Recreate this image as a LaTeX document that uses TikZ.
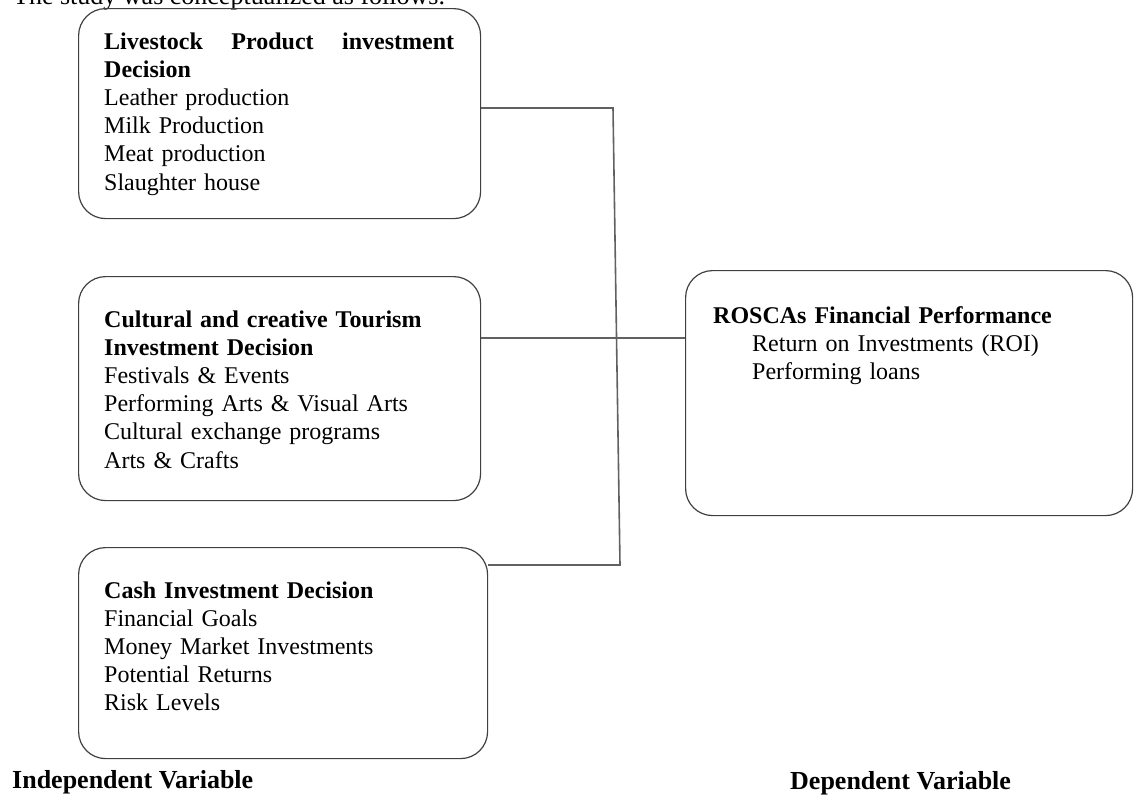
\documentclass[tikz,border=0pt]{standalone}
\usepackage{fontspec}
\setmainfont{Liberation Serif}
\begin{document}
\begin{tikzpicture}[x=1pt,y=-1pt,
  box/.style={draw=black!75,line width=1.2pt,rounded corners=27pt,inner sep=0pt,anchor=north west},
  conn/.style={draw=black!62,line width=1.6pt},
  boxtext/.style={inner sep=0pt,anchor=base west,text width=#1,font=\fontsize{24}{28.2}\selectfont},
  boxtext/.default=360pt,
  label/.style={inner sep=0pt,anchor=base west,font=\fontsize{26}{30}\selectfont\bfseries},
  caption/.style={inner sep=0pt,anchor=base west,font=\fontsize{26}{30}\selectfont}]
\useasboundingbox (0,0) rectangle (1135,795);
% caption (cut off at the top, as in the reference)
\begin{scope}
\clip (0,0) rectangle (1135,795);
\node[caption] (cap) at (13,5) {The study was conceptualized as follows.};
\end{scope}
% boxes
\node[box,minimum width=402pt,minimum height=210pt] (b1) at (78,8) {};
\node[box,minimum width=402pt,minimum height=224pt] (b2) at (78,276) {};
\node[box,minimum width=409pt,minimum height=211pt] (b3) at (78,547) {};
\node[box,minimum width=447pt,minimum height=245pt] (r) at (685,270) {};
% box texts
\node[boxtext,align=left] (t1) at (104,49) {\textbf{\makebox[350pt][l]{Livestock\hfill Product\hfill investment}}\\
\textbf{Decision}\\ Leather production\\ Milk Production\\ Meat production\\ Slaughter house};
\node[boxtext,align=left] (t2) at (104,327) {\textbf{Cultural and creative Tourism}\\
\textbf{Investment Decision}\\ Festivals \& Events\\ Performing Arts \& Visual Arts\\
Cultural exchange programs\\ Arts \& Crafts};
\node[boxtext,align=left] (t3) at (104,598) {\textbf{Cash Investment Decision}\\
Financial Goals\\ Money Market Investments\\ Potential Returns\\ Risk Levels};
\node[boxtext=400pt,align=left] (tr) at (713,323) {\textbf{ROSCAs Financial Performance}\\
\hspace*{39pt}Return on Investments (ROI)\\ \hspace*{39pt}Performing loans};
% connectors
\coordinate (j1) at (613,108);
\coordinate (j3) at (620,565);
\coordinate (m) at (616,338);
\draw[conn] (b1.east |- j1) -- (j1) -- (j3) -- (b3.east |- j3);
\draw[conn] (b2.east |- m) -- (r.west |- m);
% bottom labels
\node[label] (iv) at (12,788) {Independent Variable};
\node[label] (dv) at (790,789) {Dependent Variable};
\end{tikzpicture}
\end{document}
